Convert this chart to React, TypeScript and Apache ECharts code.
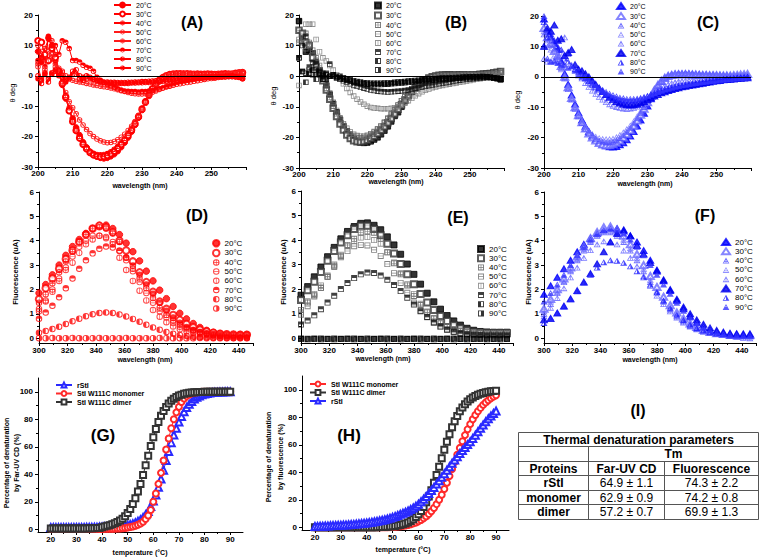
import { useEffect, useRef } from 'react';
import * as echarts from 'echarts';

const FONT = '"Liberation Sans", Arial, Helvetica, sans-serif';

// ---------------- data ----------------
const temps = ['20°C', '30°C', '40°C', '50°C', '60°C', '70°C', '80°C', '90°C'];
const cdWavelength = Array.from({ length: 60 }, (_, i) => 200 + i);
const flWavelength = Array.from({ length: 32 }, (_, i) => Math.round((300 + 4.7 * i) * 10) / 10);
const meltTemp = Array.from({ length: 71 }, (_, i) => 20 + i);

// (A) far-UV CD, red
const cdA20 = [8.0,4.5,6.0,12.5,10.0,5.0,1.0,-3.0,-7.5,-11.0,-14.0,-17.0,-19.5,-21.8,-23.5,-25.0,-26.0,-26.6,-27.0,-27.2,-27.0,-26.5,-25.8,-24.8,-23.5,-22.0,-20.3,-18.4,-16.2,-13.8,-11.3,-8.8,-6.4,-4.4,-2.8,-1.6,-0.8,-0.2,0.2,0.4,0.5,0.5,0.6,0.5,0.4,0.5,0.4,0.3,0.4,0.5,0.4,0.3,0.4,0.5,0.6,0.5,0.4,0.3,0.2,0.1];
const cdA30 = [11.5,11.0,7.0,5.0,9.0,6.0,1.5,-2.5,-7.0,-11.5,-15.0,-18.0,-20.5,-22.5,-24.0,-25.2,-26.0,-26.4,-26.6,-26.5,-26.2,-25.6,-24.8,-23.8,-22.6,-21.2,-19.6,-17.8,-15.8,-13.5,-11.0,-8.6,-6.3,-4.3,-2.7,-1.5,-0.6,0.0,0.4,0.6,0.7,0.7,0.6,0.7,0.6,0.5,0.6,0.5,0.5,0.6,0.5,0.4,0.5,0.6,0.7,0.6,0.6,0.8,1.0,1.1];
const cdA40 = [4.0,6.5,9.0,12.0,11.5,7.0,2.0,-2.0,-6.5,-10.5,-14.5,-17.5,-20.0,-22.0,-23.6,-24.8,-25.5,-25.9,-26.0,-25.9,-25.6,-25.0,-24.2,-23.2,-22.0,-20.6,-19.0,-17.2,-15.2,-13.0,-10.6,-8.2,-6.0,-4.1,-2.6,-1.4,-0.6,-0.1,0.3,0.5,0.6,0.6,0.5,0.6,0.5,0.6,0.5,0.4,0.5,0.5,0.4,0.5,0.4,0.5,0.5,0.4,0.5,0.6,0.7,0.8];
const cdA50 = [10.0,8.0,5.5,8.0,7.0,4.0,0.5,-2.5,-5.5,-8.5,-10.5,-12.5,-14.5,-16.2,-17.7,-19.0,-20.0,-20.8,-21.4,-21.8,-22.0,-21.9,-21.6,-21.0,-20.2,-19.2,-18.0,-16.6,-15.0,-13.2,-11.2,-9.0,-6.8,-4.8,-3.0,-1.6,-0.6,0.0,0.4,0.6,0.7,0.8,0.8,0.7,0.6,0.7,0.6,0.6,0.5,0.6,0.5,0.5,0.6,0.5,0.6,0.7,0.6,0.7,0.9,1.2];
const cdA60 = [3.0,-1.0,2.0,5.0,6.0,3.0,2.5,1.0,0.0,-1.0,-1.5,-1.8,-2.0,-2.2,-2.5,-2.7,-3.0,-3.2,-3.4,-3.6,-3.8,-4.0,-4.3,-4.6,-4.9,-5.2,-5.5,-5.7,-5.9,-6.0,-6.0,-5.9,-5.7,-5.4,-5.0,-4.5,-4.0,-3.5,-3.0,-2.6,-2.2,-1.9,-1.6,-1.4,-1.2,-1.0,-0.8,-0.7,-0.5,-0.4,-0.3,-0.2,0.0,0.1,0.3,0.4,0.6,0.8,1.0,1.0];
const cdA70 = [5.0,6.0,3.0,13.0,9.0,10.0,7.0,11.5,11.0,9.0,5.0,5.0,4.5,3.5,2.8,2.5,1.5,-0.5,-1.5,-2.2,-2.8,-3.3,-3.8,-4.3,-4.7,-5.0,-5.1,-5.2,-5.2,-5.3,-5.2,-5.2,-5.0,-4.9,-4.6,-4.3,-4.0,-3.7,-3.4,-3.1,-2.8,-2.6,-2.4,-2.2,-2.0,-1.8,-1.6,-1.4,-1.2,-1.0,-0.9,-0.8,-0.6,-0.5,-0.4,-0.3,-0.3,-0.4,-0.6,-1.0];
const cdA80 = [-1.0,-2.5,0.5,-2.0,1.0,2.0,0.0,1.5,-1.5,-1.0,0.5,2.0,0.0,-1.5,-1.0,-0.5,-1.2,-1.5,-2.0,-2.2,-2.3,-2.4,-2.4,-2.5,-2.5,-2.5,-2.5,-2.4,-2.4,-2.3,-2.3,-2.2,-2.2,-2.1,-2.0,-2.0,-1.9,-1.8,-1.7,-1.6,-1.5,-1.4,-1.3,-1.2,-1.1,-1.0,-0.9,-0.8,-0.7,-0.6,-0.5,-0.5,-0.4,-0.3,-0.3,-0.2,-0.2,-0.3,-0.5,-0.8];
const cdA90 = [0.0,-1.5,1.0,-1.0,0.5,1.5,0.5,-0.5,-2.0,-0.5,1.5,0.5,-1.0,-0.5,0.0,-0.8,-1.2,-1.6,-1.8,-2.0,-2.0,-2.1,-2.1,-2.2,-2.2,-2.2,-2.1,-2.1,-2.0,-2.0,-1.9,-1.9,-1.8,-1.7,-1.6,-1.5,-1.4,-1.3,-1.2,-1.1,-1.0,-0.9,-0.8,-0.8,-0.7,-0.6,-0.6,-0.5,-0.4,-0.4,-0.3,-0.3,-0.2,-0.2,-0.1,-0.1,0.0,-0.2,-0.5,-1.0];

// (B) far-UV CD, black / grey
const cdB20 = [18.0,12.5,8.0,8.5,7.5,4.5,2.0,0.0,-3.0,-6.0,-9.0,-11.8,-14.2,-16.3,-18.0,-19.4,-20.5,-21.2,-21.6,-21.8,-21.7,-21.3,-20.7,-20.0,-19.0,-17.8,-16.4,-14.8,-13.0,-11.8,-10.0,-8.2,-6.5,-5.0,-3.7,-2.6,-1.8,-1.2,-0.7,-0.3,0.0,0.3,0.3,0.4,0.3,0.3,0.2,0.3,0.3,0.2,0.2,0.3,0.2,0.2,0.1,0.0,-0.2,-0.4,-0.6,-1.0];
const cdB30 = [15.0,14.0,11.0,10.0,6.0,3.0,1.0,-1.5,-4.5,-7.5,-10.5,-13.2,-15.6,-17.6,-19.2,-20.4,-21.1,-21.4,-21.5,-21.3,-20.9,-20.3,-19.6,-18.7,-17.7,-16.5,-15.2,-13.8,-12.3,-10.8,-9.3,-7.8,-6.3,-5.0,-3.8,-2.8,-1.9,-1.2,-0.6,-0.2,0.1,0.3,0.4,0.4,0.5,0.4,0.4,0.5,0.5,0.4,0.4,0.5,0.5,0.6,0.7,0.8,0.9,1.1,1.3,1.5];
const cdB40 = [11.0,13.0,14.0,10.5,8.5,5.0,2.0,-1.0,-4.0,-7.0,-9.8,-12.3,-14.5,-16.3,-17.8,-18.9,-19.6,-20.0,-20.1,-20.0,-19.6,-19.0,-18.3,-17.4,-16.4,-15.2,-13.9,-12.5,-11.0,-9.5,-8.0,-6.6,-5.3,-4.1,-3.1,-2.2,-1.5,-0.9,-0.4,0.0,0.3,0.4,0.5,0.4,0.5,0.5,0.4,0.5,0.6,0.5,0.5,0.6,0.5,0.6,0.6,0.7,0.8,0.9,1.0,1.1];
const cdB50 = [12.0,12.5,9.0,11.0,7.5,6.0,3.5,0.5,-2.5,-5.5,-8.5,-11.2,-13.6,-15.5,-17.0,-18.2,-19.0,-19.4,-19.6,-19.6,-19.3,-18.8,-18.1,-17.2,-16.2,-15.0,-13.7,-12.3,-10.9,-9.4,-8.0,-6.7,-5.5,-4.5,-3.6,-2.9,-2.3,-1.8,-1.3,-0.9,-0.6,-0.3,-0.1,0.0,0.1,0.2,0.2,0.3,0.3,0.4,0.4,0.4,0.5,0.5,0.5,0.6,0.6,0.7,0.8,0.9];
const cdB60 = [-3.0,11.0,17.0,17.0,17.0,12.0,8.0,6.0,5.0,3.5,2.0,0.5,-1.0,-2.5,-4.0,-5.3,-6.5,-7.5,-8.4,-9.2,-9.8,-10.2,-10.4,-10.5,-10.6,-10.6,-10.6,-10.5,-10.3,-10.0,-9.5,-8.8,-8.0,-7.2,-6.4,-5.7,-5.1,-4.6,-4.2,-3.8,-3.5,-3.2,-3.0,-2.8,-2.6,-2.4,-2.2,-2.0,-1.8,-1.6,-1.4,-1.2,-1.0,-0.8,-0.6,-0.4,-0.2,0.0,0.2,0.3];
const cdB70 = [6.0,1.5,13.0,3.0,4.5,4.0,1.5,-1.0,1.0,4.0,0.5,0.0,-1.0,-1.5,-2.0,-2.5,-3.0,-3.3,-3.6,-3.9,-4.2,-4.5,-4.7,-4.9,-5.0,-5.1,-5.2,-5.1,-5.0,-4.9,-4.8,-4.7,-4.5,-4.3,-4.0,-3.8,-3.5,-3.3,-3.1,-2.9,-2.7,-2.5,-2.3,-2.1,-1.9,-1.7,-1.5,-1.3,-1.2,-1.0,-0.9,-0.8,-0.7,-0.6,-0.5,-0.4,-0.4,-0.5,-0.6,-0.8];
const cdB80 = [6.0,1.5,-2.0,1.0,2.0,-1.0,1.0,-1.0,0.5,0.0,0.0,-0.5,-0.5,-1.0,-1.3,-1.6,-1.9,-2.1,-2.3,-2.5,-2.6,-2.7,-2.7,-2.7,-2.7,-2.6,-2.6,-2.5,-2.4,-2.3,-2.2,-2.1,-2.0,-1.9,-1.8,-1.7,-1.6,-1.5,-1.4,-1.3,-1.2,-1.1,-1.0,-0.9,-0.9,-0.8,-0.7,-0.7,-0.6,-0.5,-0.5,-0.4,-0.4,-0.3,-0.3,-0.3,-0.4,-0.5,-0.7,-1.0];
const cdB90 = [18.0,10.0,1.0,2.0,0.5,2.0,0.5,1.0,-1.0,0.0,0.5,-0.5,0.0,-0.5,-1.0,-1.2,-1.5,-1.7,-1.9,-2.1,-2.2,-2.3,-2.3,-2.3,-2.3,-2.2,-2.2,-2.1,-2.0,-1.9,-1.8,-1.7,-1.6,-1.5,-1.4,-1.3,-1.2,-1.1,-1.0,-0.9,-0.8,-0.7,-0.6,-0.6,-0.5,-0.5,-0.4,-0.4,-0.3,-0.3,-0.2,-0.2,-0.2,-0.1,-0.1,-0.2,-0.3,-0.5,-0.8,-1.2];

// (C) far-UV CD, blue
const cdC20 = [19.0,15.0,13.0,11.0,9.0,5.0,1.0,-2.5,-6.0,-9.0,-11.8,-14.2,-16.3,-18.0,-19.4,-20.6,-21.5,-22.2,-22.7,-23.0,-23.1,-22.9,-22.4,-21.7,-20.7,-19.5,-18.0,-16.2,-14.2,-12.0,-9.6,-7.2,-5.0,-3.0,-1.5,-0.4,0.3,0.7,0.9,1.0,1.0,1.1,1.0,0.9,0.8,0.8,0.7,0.7,0.6,0.6,0.5,0.5,0.4,0.4,0.3,0.3,0.2,0.2,0.1,0.0];
const cdC30 = [16.0,13.0,11.0,8.5,7.0,3.5,0.0,-3.5,-7.0,-10.0,-12.7,-15.0,-17.0,-18.7,-20.0,-21.0,-21.8,-22.3,-22.5,-22.5,-22.2,-21.7,-21.0,-20.0,-18.9,-17.6,-16.1,-14.4,-12.5,-10.5,-8.4,-6.3,-4.4,-2.7,-1.3,-0.3,0.3,0.6,0.8,0.8,0.8,0.8,0.8,0.7,0.7,0.6,0.6,0.6,0.5,0.5,0.5,0.4,0.4,0.4,0.4,0.5,0.6,0.7,0.8,0.9];
const cdC40 = [14.0,12.0,10.5,9.0,6.5,3.0,-0.5,-4.0,-7.5,-10.5,-13.0,-15.2,-17.0,-18.5,-19.6,-20.4,-21.0,-21.3,-21.5,-21.5,-21.3,-20.8,-20.1,-19.2,-18.1,-16.8,-15.3,-13.6,-11.8,-9.9,-8.0,-6.1,-4.3,-2.7,-1.4,-0.4,0.2,0.5,0.6,0.7,0.7,0.7,0.6,0.6,0.5,0.5,0.5,0.4,0.4,0.4,0.3,0.3,0.3,0.3,0.3,0.3,0.4,0.4,0.5,0.6];
const cdC50 = [15.0,10.0,9.0,7.0,5.5,2.5,-0.5,-3.5,-7.0,-10.0,-12.5,-14.6,-16.4,-17.8,-18.8,-19.6,-20.1,-20.4,-20.5,-20.5,-20.3,-19.8,-19.1,-18.2,-17.2,-16.0,-14.6,-13.0,-11.3,-9.5,-7.7,-5.9,-4.2,-2.7,-1.4,-0.5,0.1,0.4,0.5,0.6,0.6,0.6,0.5,0.5,0.5,0.4,0.4,0.4,0.3,0.3,0.3,0.3,0.2,0.2,0.2,0.3,0.3,0.4,0.5,0.6];
const cdC60 = [6.0,5.0,5.0,5.5,6.0,8.0,13.0,7.5,4.0,2.5,1.0,-0.5,-2.0,-3.3,-4.5,-5.6,-6.6,-7.5,-8.3,-9.0,-9.5,-9.9,-10.2,-10.4,-10.5,-10.4,-10.2,-9.8,-9.2,-8.5,-7.6,-6.6,-5.5,-4.5,-3.6,-2.9,-2.4,-2.0,-1.7,-1.5,-1.3,-1.2,-1.1,-1.0,-0.9,-0.8,-0.8,-0.7,-0.6,-0.5,-0.5,-0.4,-0.3,-0.3,-0.2,-0.1,0.0,0.1,0.2,0.3];
const cdC70 = [10.0,16.0,15.0,17.0,12.0,12.5,7.0,8.0,9.0,4.0,2.5,2.0,1.0,0.0,-1.2,-2.5,-3.7,-4.8,-5.8,-6.7,-7.5,-8.1,-8.6,-9.0,-9.2,-9.3,-9.2,-9.0,-8.6,-8.1,-7.5,-6.9,-6.3,-5.8,-5.3,-4.9,-4.5,-4.2,-3.9,-3.6,-3.3,-3.1,-2.9,-2.7,-2.5,-2.3,-2.1,-1.9,-1.7,-1.5,-1.3,-1.2,-1.0,-0.9,-0.8,-0.7,-0.6,-0.5,-0.4,-0.3];
const cdC80 = [18.0,13.0,14.0,12.0,10.0,9.0,6.0,5.0,3.5,2.5,1.5,0.5,-0.5,-1.5,-2.5,-3.4,-4.2,-5.0,-5.7,-6.3,-6.8,-7.2,-7.5,-7.7,-7.8,-7.8,-7.7,-7.5,-7.2,-6.8,-6.3,-5.8,-5.3,-4.8,-4.4,-4.0,-3.7,-3.4,-3.1,-2.9,-2.7,-2.5,-2.3,-2.1,-2.0,-1.8,-1.7,-1.5,-1.4,-1.3,-1.1,-1.0,-0.9,-0.8,-0.7,-0.6,-0.5,-0.4,-0.3,-0.2];
const cdC90 = [20.0,6.0,5.0,5.0,4.5,4.0,4.0,3.0,3.5,2.0,0.5,0.0,-0.5,-1.3,-2.1,-2.9,-3.6,-4.3,-4.9,-5.5,-6.0,-6.4,-6.8,-7.0,-7.2,-7.2,-7.2,-7.1,-6.9,-6.6,-6.2,-5.8,-5.4,-5.0,-4.6,-4.2,-3.9,-3.6,-3.3,-3.0,-2.8,-2.6,-2.4,-2.2,-2.0,-1.9,-1.7,-1.6,-1.4,-1.3,-1.2,-1.0,-0.9,-0.8,-0.7,-0.6,-0.5,-0.4,-0.3,-0.2];

// (D) fluorescence, red
const flD20 = [1.85,2.2,2.6,3.0,3.4,3.76,4.05,4.3,4.5,4.62,4.64,4.5,4.25,3.9,3.55,3.17,2.75,2.35,1.97,1.62,1.3,1.02,0.79,0.6,0.44,0.32,0.24,0.19,0.16,0.15,0.15,0.15];
const flD30 = [1.6,2.05,2.45,2.85,3.25,3.6,3.95,4.25,4.5,4.62,4.55,4.35,4.0,3.6,3.15,2.7,2.3,1.9,1.5,1.2,0.95,0.75,0.58,0.45,0.35,0.27,0.22,0.18,0.16,0.15,0.14,0.14];
const flD40 = [1.45,1.8,2.25,2.7,3.15,3.55,3.95,4.25,4.5,4.55,4.5,4.3,3.95,3.3,2.85,2.45,2.05,1.65,1.25,0.95,0.72,0.55,0.42,0.32,0.25,0.2,0.17,0.15,0.14,0.13,0.13,0.13];
const flD50 = [1.2,1.55,2.0,2.45,2.9,3.35,3.75,4.0,4.2,4.2,4.15,3.95,3.6,3.2,2.75,2.3,1.85,1.45,1.1,0.85,0.62,0.47,0.36,0.28,0.22,0.18,0.15,0.14,0.13,0.12,0.12,0.12];
const flD60 = [1.1,1.5,1.9,2.35,2.8,3.1,3.5,3.85,4.05,4.2,4.1,3.85,3.3,2.8,2.35,1.95,1.55,1.15,0.88,0.65,0.48,0.36,0.27,0.21,0.17,0.14,0.12,0.11,0.1,0.1,0.1,0.1];
const flD70 = [0.8,1.05,1.33,1.68,2.05,2.45,2.85,3.2,3.48,3.67,3.76,3.72,3.58,3.32,2.98,2.6,2.2,1.82,1.45,1.12,0.85,0.63,0.46,0.33,0.24,0.17,0.12,0.09,0.07,0.06,0.05,0.05];
const flD80 = [0.22,0.29,0.37,0.47,0.58,0.69,0.8,0.9,0.98,1.03,1.05,1.03,0.97,0.89,0.79,0.67,0.55,0.44,0.34,0.25,0.18,0.13,0.09,0.06,0.04,0.03,0.02,0.02,0.01,0.01,0.01,0.01];
const flD90 = [0.0,0.0,0.01,0.0,0.0,0.01,0.0,0.0,0.0,0.01,0.0,0.0,0.0,0.01,0.0,0.0,0.0,0.0,0.01,0.0,0.0,0.0,0.0,0.0,0.01,0.0,0.0,0.0,0.0,0.0,0.0,0.0];

// (E) fluorescence, black / grey
const flE20 = [1.75,2.1,2.5,2.9,3.32,3.7,4.05,4.35,4.55,4.68,4.7,4.6,4.42,4.13,3.8,3.42,3.02,2.6,2.2,1.83,1.48,1.18,0.92,0.7,0.53,0.4,0.32,0.27,0.25,0.24,0.24,0.24];
const flE30 = [1.55,1.95,2.3,2.7,3.15,3.55,3.9,4.2,4.45,4.58,4.58,4.45,4.2,3.85,3.45,3.02,2.6,2.2,1.8,1.45,1.15,0.9,0.7,0.53,0.4,0.31,0.25,0.22,0.2,0.2,0.2,0.2];
const flE40 = [1.15,1.45,1.75,2.05,2.5,2.95,3.35,3.8,4.05,4.3,4.35,4.3,4.05,3.5,3.05,2.6,2.15,1.72,1.35,1.05,0.8,0.6,0.45,0.35,0.28,0.24,0.21,0.2,0.19,0.19,0.19,0.19];
const flE50 = [0.95,1.3,1.7,2.05,2.5,2.9,3.3,3.55,3.75,3.8,3.78,3.6,3.35,3.02,2.65,2.25,1.85,1.45,1.12,0.85,0.62,0.45,0.33,0.25,0.2,0.17,0.16,0.15,0.15,0.15,0.15,0.15];
const flE60 = [1.0,1.5,1.8,2.15,2.55,3.0,3.4,3.75,3.95,4.1,4.12,4.0,3.85,3.5,3.08,2.65,2.2,1.8,1.4,1.08,0.82,0.62,0.47,0.37,0.3,0.26,0.24,0.23,0.22,0.22,0.22,0.22];
const flE70 = [0.55,0.72,0.93,1.18,1.45,1.73,2.0,2.25,2.45,2.6,2.68,2.66,2.55,2.38,2.17,1.92,1.65,1.37,1.1,0.86,0.65,0.48,0.35,0.26,0.2,0.16,0.14,0.13,0.12,0.12,0.12,0.12];
const flE80 = [-0.04,-0.05,-0.04,-0.05,-0.04,-0.05,-0.04,-0.04,-0.05,-0.04,-0.05,-0.04,-0.04,-0.05,-0.04,-0.05,-0.04,-0.04,-0.05,-0.04,-0.05,-0.04,-0.04,-0.05,-0.04,-0.05,-0.04,-0.04,-0.05,-0.04,-0.05,-0.04];
const flE90 = [-0.02,-0.03,-0.02,-0.02,-0.03,-0.02,-0.03,-0.02,-0.02,-0.03,-0.02,-0.03,-0.02,-0.02,-0.03,-0.02,-0.03,-0.02,-0.02,-0.03,-0.02,-0.03,-0.02,-0.02,-0.03,-0.02,-0.03,-0.02,-0.02,-0.03,-0.02,-0.03];

// (F) fluorescence, blue
const flF20 = [1.8,2.15,2.5,2.85,3.2,3.55,3.85,4.1,4.3,4.45,4.52,4.5,4.4,4.2,3.95,3.6,3.2,2.8,2.35,1.95,1.55,1.2,0.9,0.65,0.45,0.32,0.22,0.16,0.12,0.1,0.1,0.1];
const flF30 = [1.2,1.6,2.0,2.45,2.9,3.35,3.75,4.1,4.35,4.55,4.58,4.45,4.2,3.85,3.45,3.0,2.55,2.1,1.7,1.35,1.05,0.8,0.6,0.45,0.33,0.25,0.2,0.17,0.15,0.14,0.14,0.14];
const flF40 = [1.0,1.4,1.85,2.3,2.75,3.2,3.6,3.95,4.2,4.35,4.35,4.2,3.95,3.6,3.2,2.75,2.3,1.88,1.5,1.18,0.9,0.68,0.5,0.37,0.28,0.22,0.18,0.15,0.1,0.06,0.02,0.0];
const flF50 = [1.1,1.5,1.9,2.35,2.8,3.25,3.65,4.0,4.25,4.4,4.42,4.3,4.05,3.7,3.3,2.85,2.4,1.95,1.55,1.2,0.92,0.7,0.52,0.38,0.28,0.21,0.17,0.14,0.13,0.12,0.12,0.12];
const flF60 = [0.9,1.25,1.65,2.05,2.5,2.9,3.3,3.62,3.85,3.98,3.98,3.85,3.6,3.3,2.95,2.55,2.15,1.75,1.4,1.1,0.85,0.64,0.48,0.36,0.27,0.21,0.17,0.15,0.13,0.12,0.12,0.12];
const flF70 = [0.75,0.8,1.03,1.32,1.62,1.95,2.3,2.65,3.05,3.55,3.95,4.3,4.45,4.2,3.8,3.45,3.1,2.75,2.4,2.0,1.6,1.28,1.0,0.75,0.57,0.42,0.32,0.25,0.2,0.18,0.17,0.17];
const flF80 = [0.62,0.85,1.05,1.3,1.6,1.92,2.28,2.6,2.9,3.12,3.2,3.18,3.1,2.95,2.75,2.5,2.2,1.88,1.55,1.25,0.97,0.74,0.56,0.42,0.32,0.25,0.2,0.17,0.15,0.14,0.13,0.13];
const flF90 = [1.5,1.85,2.2,2.6,3.0,3.4,3.75,4.05,4.3,4.45,4.5,4.45,4.3,4.05,3.75,3.4,3.0,2.6,2.2,1.82,1.45,1.12,0.85,0.62,0.45,0.32,0.23,0.17,0.13,0.11,0.1,0.1];

// (G) % denaturation by far-UV CD
const gRStI = [1.2,1.2,1.2,1.2,1.2,1.2,1.2,1.2,1.2,1.3,1.3,1.3,1.3,1.3,1.4,1.4,1.4,1.5,1.5,1.6,1.7,1.8,1.9,2.0,2.1,2.2,2.3,2.5,2.6,2.8,3.0,3.4,4.0,4.8,5.8,7.0,8.5,10.5,13.0,16.5,20.5,25.0,30.5,36.5,43.0,50.0,56.5,63.0,68.5,73.5,78.0,82.0,85.5,88.5,91.0,93.0,94.7,96.0,97.0,97.8,98.4,98.8,99.1,99.4,99.6,99.7,99.8,99.9,100,100,100];
const gMonomer = [0.2,0.2,0.2,0.2,0.2,0.2,0.2,0.2,0.2,0.2,0.2,0.2,0.2,0.2,0.2,0.2,0.2,0.2,0.2,0.2,0.3,0.3,0.3,0.3,0.3,0.4,0.5,0.6,0.7,0.9,1.3,1.6,2.0,2.6,3.3,4.2,5.5,7.5,10.0,14.0,20.0,26.0,33.0,41.0,50.0,58.0,66.0,73.5,80.0,85.0,89.0,92.5,95.0,96.8,98.0,98.8,99.3,99.6,99.8,99.9,100,100,100,100,100,100,100,100,100,100,100];
const gDimer = [0.5,0.5,0.5,0.5,0.5,0.5,0.5,0.5,0.5,0.5,0.5,0.5,0.6,0.6,0.6,0.7,0.7,0.8,0.9,1.0,1.5,2.0,2.5,3.0,3.6,4.3,5.2,6.3,7.7,9.5,11.8,14.7,18.3,22.6,27.5,33.0,39.5,46.5,53.5,60.5,67.0,73.0,78.0,82.5,86.0,89.0,91.5,93.5,95.0,96.2,97.2,97.9,98.5,98.9,99.2,99.4,99.6,99.7,99.8,99.9,100,100,100,100,100,100,100,100,100,100,100];

// (H) % denaturation by fluorescence
const hMonomer = [0,0,0,0,0,0,0,0,0,0,0,0,0,0,0,0,0,0,0,0,0,0,0,0,0,0,0,0,0,0.1,0.2,0.3,0.5,0.7,1.0,1.3,1.7,2.2,2.8,3.5,4.3,5.3,6.5,7.9,9.6,11.6,14.0,16.8,20.0,23.7,27.8,32.3,37.2,42.3,47.5,52.7,57.7,62.5,67.0,71.2,75.0,78.5,81.6,84.4,86.8,89.0,90.8,92.4,93.8,95.0,96.0];
const hDimer = [0,0,0,0,0,0,0,0,0,0,0,0,0,0,0,0,0,0,0,0,0,0,0,0,0,0.1,0.2,0.3,0.4,0.5,0.7,0.9,1.2,1.6,2.1,2.7,3.5,4.5,5.8,7.4,9.4,11.8,14.7,18.2,22.3,27.0,32.3,38.0,44.0,50.2,56.3,62.2,67.7,72.7,77.1,81.0,84.3,87.1,89.5,91.5,93.1,94.4,95.5,96.4,97.1,97.7,98.2,98.6,98.9,99.1,99.3];
const hRStI = [0.5,0.6,0.7,0.8,0.9,1.0,1.1,1.2,1.3,1.4,1.5,1.6,1.7,1.8,2.0,2.1,2.3,2.5,2.7,2.9,3.1,3.4,3.7,4.0,4.3,4.7,5.1,5.5,6.0,6.5,7.2,7.9,8.6,9.4,10.2,11.0,11.9,12.9,14.0,15.3,16.7,18.5,20.4,22.4,24.5,26.7,29.0,31.4,33.9,36.4,39.0,41.5,44.0,46.5,49.0,51.3,53.6,55.8,58.0,60.1,62.2,64.6,67.0,69.5,72.0,74.4,76.7,78.9,80.9,82.8,84.5];

// (I) table
const tmProteins = ['rStI', 'monomer', 'dimer'];
const tmFarUV = ['64.9 ± 1.1', '62.9 ± 0.9', '57.2 ± 0.7'];
const tmFluo = ['74.3 ± 2.2', '74.2 ± 0.8', '69.9 ± 1.3'];

const meltNamesG = ['rStI', 'StI W111C monomer', 'StI W111C dimer'];
const meltNamesH = ['StI W111C monomer', 'StI W111C dimer', 'rStI'];

// ---------------- symbols ----------------
const C_OUT = 'M0,10 A10,10 0 0,1 20,10 A10,10 0 0,1 0,10 Z';
const C_IN = 'M3,10 A7,7 0 0,0 17,10 A7,7 0 0,0 3,10 Z';
const V_BAR = 'M9,2 L11,2 L11,18 L9,18 Z';
const H_BAR = 'M2,9 L18,9 L18,11 L2,11 Z';
const circleSyms = [
  'circle',
  'emptyCircle',
  `path://${C_OUT} ${C_IN} ${V_BAR} ${H_BAR}`,
  `path://${C_OUT} ${C_IN} ${H_BAR}`,
  `path://${C_OUT} ${C_IN} ${V_BAR}`,
  `path://${C_OUT} ${C_IN} M0,10 A10,10 0 0,1 20,10 Z`,
  `path://${C_OUT} ${C_IN} M10,20 A10,10 0 0,1 10,0 Z`,
  `path://${C_OUT} ${C_IN} M10,0 A10,10 0 0,1 10,20 Z`,
];
const S_OUT = 'M0,0 L20,0 L20,20 L0,20 Z';
const S_IN = 'M3,3 L3,17 L17,17 L17,3 Z';
const squareSyms = [
  'rect',
  'emptyRect',
  `path://${S_OUT} ${S_IN} ${V_BAR} ${H_BAR}`,
  `path://${S_OUT} ${S_IN} ${H_BAR}`,
  `path://${S_OUT} ${S_IN} ${V_BAR}`,
  `path://${S_OUT} ${S_IN} M0,0 L20,0 L20,10 L0,10 Z`,
  `path://${S_OUT} ${S_IN} M0,0 L10,0 L10,20 L0,20 Z`,
  `path://${S_OUT} ${S_IN} M10,0 L20,0 L20,20 L10,20 Z`,
];
const T_OUT = 'M10,0 L20,18 L0,18 Z';
const T_IN = 'M10,5 L3.8,15.5 L16.2,15.5 Z';
const T_V = 'M9,4 L11,4 L11,16 L9,16 Z';
const T_H = 'M5,11 L15,11 L15,13 L5,13 Z';
const triSyms = [
  'triangle',
  'emptyTriangle',
  `path://${T_OUT} ${T_IN} ${T_V} ${T_H}`,
  `path://${T_OUT} ${T_IN} ${T_H}`,
  `path://${T_OUT} ${T_IN} ${T_V}`,
  'triangle',
  `path://${T_OUT} ${T_IN} M10,0 L20,18 L10,18 Z`,
  `path://${T_OUT} ${T_IN} M0,18 L5,9 L15,9 L20,18 Z`,
];
const RED = ['#ff0000', '#ff0000', '#ff0000', '#ff1a1a', '#ff1a1a', '#ff0000', '#ff0000', '#ff0000'];
const GREY = ['#000000', '#333333', '#555555', '#666666', '#777777', '#111111', '#000000', '#000000'];
const BLUE = ['#0000ff', '#6666ff', '#4d4dff', '#7373ff', '#5c5cff', '#0000ee', '#1a1aff', '#3333ff'];

function buildOption() {
  const grids = [
    { left: 38, top: 15, width: 208, height: 152 },
    { left: 299, top: 15, width: 205, height: 153 },
    { left: 544, top: 16, width: 207, height: 152 },
    { left: 39, top: 192, width: 214, height: 151 },
    { left: 301, top: 191, width: 212, height: 152 },
    { left: 544, top: 192, width: 212, height: 151 },
    { left: 38, top: 378, width: 205, height: 154 },
    { left: 302, top: 376, width: 207, height: 154 },
  ].map((g) => ({ ...g, containLabel: false, outerBoundsMode: 'none' }));

  const lbl = { fontFamily: FONT, fontSize: 8, fontWeight: 'bold', color: '#000' };
  const axLine = { show: true, onZero: false, lineStyle: { color: '#000', width: 1 } };
  const tk = (len: number, extra: any = {}) => ({ show: true, length: len, lineStyle: { color: '#000', width: 1 }, ...extra });
  const minor = { show: true, splitNumber: 2, length: 2, lineStyle: { color: '#000', width: 1 } };
  const base = { type: 'value', splitLine: { show: false }, minorSplitLine: { show: false } };

  const flYTicks = [0, 1, 2, 3, 4, 5, 6];
  const flYMinor = [0.5, 1.5, 2.5, 3.5, 4.5, 5.5];
  const meltXTicks = [20, 30, 40, 50, 60, 70, 80, 90];
  const meltXMinor = [25, 35, 45, 55, 65, 75, 85];
  const meltYTicks = [0, 20, 40, 60, 80, 100];
  const meltYMinor = [10, 30, 50, 70, 90];

  const xAxis: any[] = [];
  const yAxis: any[] = [];
  for (let i = 0; i < 3; i++) {
    xAxis.push({ ...base, gridIndex: i, position: 'bottom', min: 200, max: 260, interval: 10, axisLine: axLine, axisTick: tk(3), minorTick: minor, axisLabel: { ...lbl, margin: 2, showMaxLabel: false } });
    yAxis.push({ ...base, gridIndex: i, position: 'left', min: -30, max: 20, interval: 10, axisLine: axLine, axisTick: tk(3), minorTick: minor, axisLabel: { ...lbl, margin: 5 } });
  }
  for (let i = 3; i < 6; i++) {
    xAxis.push({ ...base, gridIndex: i, position: 'bottom', min: 300, max: 450, interval: 20, axisLine: axLine, axisTick: tk(3), minorTick: minor, axisLabel: { ...lbl, margin: 3, showMaxLabel: false } });
    yAxis.push({ ...base, gridIndex: i, position: 'left', min: -0.2, max: 6, axisLine: axLine, axisTick: tk(3, { customValues: flYTicks }), axisLabel: { ...lbl, margin: 5, customValues: flYTicks } });
  }
  for (let i = 6; i < 8; i++) {
    xAxis.push({ ...base, gridIndex: i, position: 'bottom', min: 15, max: 95, axisLine: axLine, axisTick: tk(3, { customValues: meltXTicks }), axisLabel: { ...lbl, margin: 3, customValues: meltXTicks } });
    yAxis.push({ ...base, gridIndex: i, position: 'left', min: -2, max: 110, axisLine: axLine, axisTick: tk(3, { customValues: meltYTicks }), axisLabel: { ...lbl, margin: 5, customValues: meltYTicks } });
  }
  // ghost axes that only draw minor ticks
  const ghost = { ...base, axisLine: { show: false, onZero: false }, axisLabel: { show: false } };
  for (let i = 3; i < 6; i++) {
    yAxis.push({ ...ghost, gridIndex: i, position: 'left', min: -0.2, max: 6, axisTick: tk(2, { customValues: flYMinor }) });
  }
  for (let i = 6; i < 8; i++) {
    xAxis.push({ ...ghost, gridIndex: i, position: 'bottom', min: 15, max: 95, axisTick: tk(2, { customValues: meltXMinor }) });
    yAxis.push({ ...ghost, gridIndex: i, position: 'left', min: -2, max: 110, axisTick: tk(2, { customValues: meltYMinor }) });
  }

  const zeroLine = {
    silent: true, symbol: ['none', 'none'], label: { show: false }, animation: false,
    lineStyle: { color: '#000', width: 1, type: 'solid' }, data: [{ yAxis: 0 }],
  };

  const series: any[] = [];
  const legends: any[] = [];
  const fmt = (n: string) => n.split('|')[1];

  const addPanel = (key: string, idx: number, kind: 'line' | 'scatter', xs: number[], sets: number[][], syms: string[], colors: string[], size: any) => {
    const names: string[] = [];
    sets.forEach((ys, k) => {
      const name = `${key}|${temps[k]}`;
      names.push(name);
      const isPath = syms[k].startsWith('path://');
      const s: any = {
        name, type: kind, xAxisIndex: idx, yAxisIndex: idx,
        data: xs.map((x, i) => [x, ys[i]]),
        symbol: syms[k], symbolSize: size,
        itemStyle: { color: colors[k], borderColor: colors[k], borderWidth: isPath ? 0 : 1 },
        animation: false,
      };
      if (kind === 'line') {
        s.showSymbol = true; s.showAllSymbol = true;
        s.lineStyle = { color: colors[k], width: 1 };
      }
      if (k === 0 && idx < 3) s.markLine = zeroLine;
      series.push(s);
    });
    return names;
  };

  const nA = addPanel('A', 0, 'line', cdWavelength, [cdA20, cdA30, cdA40, cdA50, cdA60, cdA70, cdA80, cdA90], circleSyms, RED, 5.5);
  const nB = addPanel('B', 1, 'scatter', cdWavelength, [cdB20, cdB30, cdB40, cdB50, cdB60, cdB70, cdB80, cdB90], squareSyms, GREY, 5.5);
  const nC = addPanel('C', 2, 'scatter', cdWavelength, [cdC20, cdC30, cdC40, cdC50, cdC60, cdC70, cdC80, cdC90], triSyms, BLUE, [7, 6]);
  const nD = addPanel('D', 3, 'scatter', flWavelength, [flD20, flD30, flD40, flD50, flD60, flD70, flD80, flD90], circleSyms, RED, 6.5);
  const nE = addPanel('E', 4, 'scatter', flWavelength, [flE20, flE30, flE40, flE50, flE60, flE70, flE80, flE90], squareSyms, GREY, 6);
  const nF = addPanel('F', 5, 'scatter', flWavelength, [flF20, flF30, flF40, flF50, flF60, flF70, flF80, flF90], triSyms, BLUE, [7, 6]);

  const meltSeries = (key: string, idx: number, name: string, ys: number[], sym: string, color: string, size: number) => ({
    name: `${key}|${name}`, type: 'line', xAxisIndex: idx, yAxisIndex: idx,
    data: meltTemp.map((t, i) => [t, ys[i]]),
    symbol: sym, symbolSize: size, showSymbol: true, showAllSymbol: true,
    itemStyle: { color, borderColor: color, borderWidth: 1 },
    lineStyle: { color, width: 1 }, animation: false,
  });
  series.push(meltSeries('G', 6, meltNamesG[0], gRStI, 'emptyTriangle', '#2a2aff', 7));
  series.push(meltSeries('G', 6, meltNamesG[1], gMonomer, 'emptyCircle', '#ff2a2a', 6));
  series.push(meltSeries('G', 6, meltNamesG[2], gDimer, 'emptyRect', '#333333', 6));
  series.push(meltSeries('H', 7, meltNamesH[0], hMonomer, 'emptyCircle', '#ff2a2a', 6));
  series.push(meltSeries('H', 7, meltNamesH[1], hDimer, 'emptyRect', '#333333', 6));
  series.push(meltSeries('H', 7, meltNamesH[2], hRStI, 'emptyTriangle', '#2a2aff', 7));

  const legend = (data: string[], left: number, top: number, iw: number, ih: number, fs: number, gap: number, bold = false) => ({
    data, left, top, orient: 'vertical', itemWidth: iw, itemHeight: ih, itemGap: gap, padding: 0,
    selectedMode: false, formatter: fmt,
    textStyle: { fontFamily: FONT, fontSize: fs, lineHeight: fs, fontWeight: bold ? 'bold' : 'normal', color: '#000' },
  });
  legends.push(legend(nA, 113, 1.5, 17, 6, 7, 2));
  legends.push(legend(nB, 374, 1.5, 6, 6, 7, 2));
  legends.push(legend(nC, 616, 2, 8, 6, 7, 2));
  legends.push(legend(nD, 212, 239, 6.5, 6.5, 8, 1.2));
  legends.push(legend(nE, 477, 245, 6, 6, 8, 1.2));
  legends.push(legend(nF, 721, 238, 8, 6, 8, 1.3));
  legends.push(legend(meltNamesG.map((n) => `G|${n}`), 55, 381.5, 16, 6, 7, 1.5, true));
  legends.push(legend(meltNamesH.map((n) => `H|${n}`), 309, 380.5, 16, 6, 7, 1.5, true));

  const txt = (text: string, x: number, y: number, size: number, bold: boolean, rot = 0) => ({
    type: 'text', x, y, rotation: rot, silent: true,
    style: {
      text, fill: '#000', font: `${bold ? 'bold ' : ''}${size}px ${FONT}`,
      textAlign: 'center', textVerticalAlign: 'middle', align: 'center', verticalAlign: 'middle',
    },
  });
  const R = Math.PI / 2;
  const graphics: any[] = [
    txt('(A)', 192, 22, 16, true), txt('(B)', 456, 22, 16, true), txt('(C)', 708, 22, 16, true),
    txt('(D)', 197, 215, 16, true), txt('(E)', 458, 217, 16, true), txt('(F)', 705, 215, 16, true),
    txt('(G)', 103, 435, 17, true), txt('(H)', 349, 435, 17, true), txt('(I)', 638, 410, 16, true),
    txt('θ deg', 12, 93, 7.5, false, R), txt('θ deg', 273, 96, 7.5, false, R), txt('θ deg', 517, 100, 7.5, false, R),
    txt('wavelength (nm)', 140, 185, 7, true), txt('wavelength (nm)', 396, 181.5, 7, true), txt('wavelength (nm)', 645, 183, 7, true),
    txt('wavelength (nm)', 145, 359, 7, true), txt('wavelength (nm)', 383, 358.5, 7, true), txt('wavelength (nm)', 650, 359, 7, true),
    txt('Fluorescence (uA)', 15, 272, 7.5, true, R), txt('Fluorescence (uA)', 283, 272, 7.5, true, R), txt('Fluorescence (uA)', 528, 272, 7.5, true, R),
    txt('Percentage of denaturation', 6, 463, 7, true, R), txt('by Far-UV CD (%)', 16, 463, 7, true, R),
    txt('Percentage of denaturation', 268, 457, 7, true, R), txt('by fluorescence (%)', 280, 457, 7, true, R),
    txt('temperature (°C)', 140, 552, 7, true), txt('temperature (°C)', 403, 549, 7, true),
  ];

  // table (I)
  const tx = [518, 588, 664, 758];
  const ty = [432, 446, 461, 475, 490, 504, 519];
  const lineStyle = { stroke: '#555', lineWidth: 1 };
  graphics.push({ type: 'rect', silent: true, shape: { x: tx[0] + 0.5, y: ty[0] + 0.5, width: tx[3] - tx[0], height: ty[6] - ty[0] }, style: { fill: 'none', ...lineStyle } });
  for (let r = 1; r < 6; r++) {
    graphics.push({ type: 'line', silent: true, shape: { x1: tx[0], y1: ty[r] + 0.5, x2: tx[3], y2: ty[r] + 0.5 }, style: lineStyle });
  }
  graphics.push({ type: 'line', silent: true, shape: { x1: tx[1] + 0.5, y1: ty[1], x2: tx[1] + 0.5, y2: ty[6] }, style: lineStyle });
  graphics.push({ type: 'line', silent: true, shape: { x1: tx[2] + 0.5, y1: ty[2], x2: tx[2] + 0.5, y2: ty[6] }, style: lineStyle });
  const mid = (a: number, b: number) => (a + b) / 2 + 0.5;
  const cx = [mid(tx[0], tx[1]), mid(tx[1], tx[2]), mid(tx[2], tx[3])];
  graphics.push(txt('Thermal denaturation parameters', mid(tx[0], tx[3]), mid(ty[0], ty[1]), 12, true));
  graphics.push(txt('Tm', mid(tx[1], tx[3]), mid(ty[1], ty[2]), 12, true));
  graphics.push(txt('Proteins', cx[0], mid(ty[2], ty[3]), 12, true));
  graphics.push(txt('Far-UV CD', cx[1], mid(ty[2], ty[3]), 12, true));
  graphics.push(txt('Fluorescence', cx[2], mid(ty[2], ty[3]), 12, true));
  tmProteins.forEach((p, i) => {
    const y = mid(ty[3 + i], ty[4 + i]);
    graphics.push(txt(p, cx[0], y, 12, true));
    graphics.push(txt(tmFarUV[i], cx[1], y, 12, false));
    graphics.push(txt(tmFluo[i], cx[2], y, 12, false));
  });

  return {
    animation: false,
    backgroundColor: '#ffffff',
    textStyle: { fontFamily: FONT },
    grid: grids,
    xAxis,
    yAxis,
    legend: legends,
    series,
    graphic: { elements: graphics },
  };
}

export default function App() {
  const ref = useRef<HTMLDivElement>(null);
  useEffect(() => {
    if (!ref.current) return;
    const chart = echarts.init(ref.current, null, { renderer: 'svg' });
    chart.setOption(buildOption() as any);
    return () => chart.dispose();
  }, []);
  return <div ref={ref} style={{ position: 'absolute', left: 0, top: 0, width: 760, height: 557 }} />;
}
